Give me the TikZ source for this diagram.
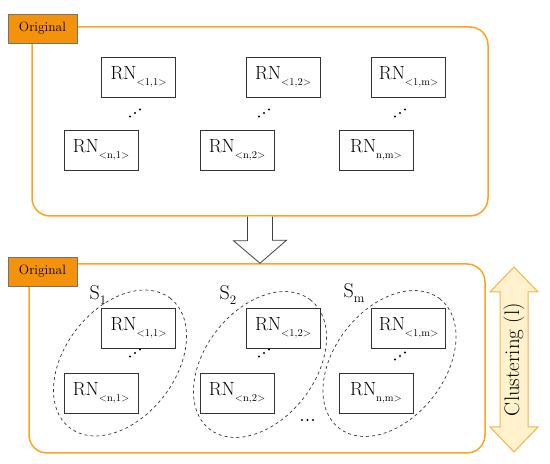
\documentclass[tikz,border=0pt]{standalone}
\usepackage{fontspec}
\usetikzlibrary{shapes.geometric, positioning}

\definecolor{frameorange}{RGB}{255,163,35}
\definecolor{tagorange}{RGB}{245,146,12}
\definecolor{clusterfill}{RGB}{255,242,204}
\definecolor{clusterline}{RGB}{246,178,70}

% subscripted RN label
\newcommand{\rnlab}[1]{RN\raisebox{-6pt}{\fontsize{10.5}{12}\selectfont #1}}
% three rising dots
\newcommand{\updots}[2]{%
  \fill (#1-5,#2-3.5) circle (1.2pt);
  \fill (#1,#2) circle (1.2pt);
  \fill (#1+5,#2+3.5) circle (1.2pt);}

\begin{document}
\begin{tikzpicture}[x=1pt,y=1pt,
  rnbox/.style={draw=black!80, line width=0.8pt, minimum width=74pt, minimum height=40pt, inner sep=1pt, font=\fontsize{19}{21}\selectfont},
  frame/.style={draw=frameorange, line width=1.5pt, rounded corners=18pt, inner sep=0pt},
  tag/.style={draw=black!55, fill=tagorange, line width=0.8pt, minimum width=69pt, minimum height=29pt, inner sep=0pt, font=\fontsize{13.5}{15}\selectfont},
  group/.style={draw=black!80, dashed, line width=0.7pt, ellipse, minimum width=164pt, minimum height=110pt, inner sep=0pt},
  setlab/.style={font=\fontsize{20}{22}\selectfont, inner sep=0pt}]
\useasboundingbox (0,0) rectangle (550,464);

% original set
\node (top) [frame, minimum width=456pt, minimum height=189pt] at (260,342.5) {};
\node (tagA) [tag] at (42.5,435.5) {Original};
\node (a11) [rnbox] at (138.5,387) {\rnlab{\textless1,1\textgreater}};
\node (a12) [rnbox] at (283,387) {\rnlab{\textless1,2\textgreater}};
\node (a1m) [rnbox] at (408.5,387) {\rnlab{\textless1,m\textgreater}};
\node (an1) [rnbox] at (101,314) {\rnlab{\textless n,1\textgreater}};
\node (an2) [rnbox] at (237,314) {\rnlab{\textless n,2\textgreater}};
\node (anm) [rnbox] at (376,314) {\rnlab{n,m\textgreater}};
\updots{135}{351}
\updots{264}{351}
\updots{400}{351}

% clustered set
\node (bot) [frame, minimum width=456pt, minimum height=189pt] at (257,105.5) {};
\node (tagB) [tag] at (42.5,192.5) {Original};
\node (g1) [group, rotate=52] at (120,101) {};
\node (g2) [group, rotate=52] at (260,99.5) {};
\node (gm) [group, rotate=52] at (389.5,100.5) {};
\node (s1) [setlab] at (98,169) {S\raisebox{-5pt}{\fontsize{13}{15}\selectfont 1}};
\node (s2) [setlab] at (228,169) {S\raisebox{-5pt}{\fontsize{13}{15}\selectfont 2}};
\node (sm) [setlab] at (354,171) {S\raisebox{-5pt}{\fontsize{13}{15}\selectfont m}};
\node (b11) [rnbox, fill=white] at (138.5,135.5) {\rnlab{\textless1,1\textgreater}};
\node (b12) [rnbox, fill=white] at (283,135.5) {\rnlab{\textless1,2\textgreater}};
\node (b1m) [rnbox, fill=white] at (408.5,135.5) {\rnlab{\textless1,m\textgreater}};
\node (bn1) [rnbox, fill=white] at (101,71) {\rnlab{\textless n,1\textgreater}};
\node (bn2) [rnbox, fill=white] at (237,71) {\rnlab{\textless n,2\textgreater}};
\node (bnm) [rnbox, fill=white] at (376,71) {\rnlab{n,m\textgreater}};
\updots{135}{111}
\updots{264}{111}
\updots{400}{108}
\fill (302,44) circle (1.2pt) (307.5,44) circle (1.2pt) (313,44) circle (1.2pt);

% step arrow between the two sets
\draw [line width=0.8pt, draw=black!75, fill=white]
  ([xshift=-12.5pt]top.south) -- ++(0,-24) -- ++(-14,0) -- (bot.north -| top.south)
  -- ++(26.5,23) -- ++(-14,0) -- ([xshift=12.5pt]top.south);

% clustering arrow
\draw [line width=1pt, draw=clusterline, fill=clusterfill]
  (514,197) -- (538,172) -- (528,172) -- (528,37) -- (538,37) -- (514,12)
  -- (490,37) -- (500,37) -- (500,172) -- (490,172) -- cycle;
\node (clus) [rotate=90, font=\fontsize{21}{23}\selectfont] at (514,104.5) {Clustering (l)};
\end{tikzpicture}
\end{document}
